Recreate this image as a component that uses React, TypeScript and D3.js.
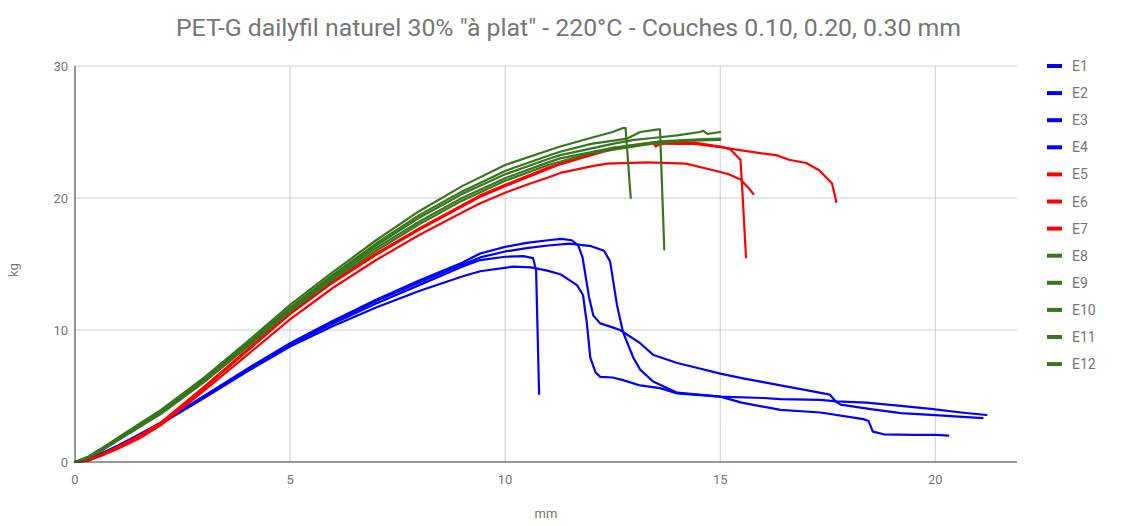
import React from 'react';
import * as d3 from 'd3';

type P = [number, number];

const title = 'PET-G dailyfil naturel 30% "à plat" - 220°C - Couches 0.10, 0.20, 0.30 mm';
const xTicks = [0, 5, 10, 15, 20];
const yTicks = [0, 10, 20, 30];
const seriesNames = ['E1', 'E2', 'E3', 'E4', 'E5', 'E6', 'E7', 'E8', 'E9', 'E10', 'E11', 'E12'];
const seriesColors = ['#0000ff', '#0000ff', '#0000ff', '#0000ff', '#ff0000', '#ff0000', '#ff0000', '#38761d', '#38761d', '#38761d', '#38761d', '#38761d'];

const e1: P[] = [[0,0],[0.3,0.15],[0.6,0.6],[1,1.2],[1.5,2.05],[2,2.95],[3,4.9],[4,6.95],[5,8.9],[6,10.5],[7,12.0],[8,13.4],[9,14.8],[9.42,15.3],[10,15.55],[10.42,15.6],[10.65,15.45],[10.72,14.5],[10.79,5.15]];
const e2: P[] = [[0,0],[0.3,0.12],[0.6,0.55],[1,1.15],[1.5,2.0],[2,2.9],[3,4.85],[4,6.85],[5,8.75],[6,10.3],[7,11.7],[8,12.95],[9,14.05],[9.42,14.45],[10.19,14.8],[10.6,14.75],[10.98,14.5],[11.3,14.2],[11.67,13.4],[11.81,12.65],[11.9,10.5],[11.98,7.9],[12.1,6.8],[12.21,6.45],[12.5,6.4],[12.74,6.2],[13.14,5.8],[13.6,5.6],[14.0,5.2],[15.0,4.95],[16.0,4.85],[16.4,4.77],[17.33,4.7],[17.7,4.6],[18.4,4.5],[19.2,4.25],[19.95,4.0],[20.6,3.75],[21.19,3.56]];
const e3: P[] = [[0,0],[0.3,0.15],[0.6,0.62],[1,1.25],[1.5,2.1],[2,3.0],[3,5.0],[4,7.05],[5,9.0],[6,10.7],[7,12.3],[8,13.75],[9,15.1],[9.42,15.8],[10,16.3],[10.5,16.6],[11,16.8],[11.3,16.9],[11.55,16.8],[11.7,16.4],[11.8,15.5],[11.95,12.5],[12.05,11.1],[12.21,10.5],[12.5,10.2],[12.67,10.0],[13.14,9.0],[13.45,8.1],[14.0,7.5],[14.5,7.1],[15.0,6.7],[15.5,6.35],[16.0,6.05],[16.4,5.8],[17.0,5.45],[17.55,5.1],[17.68,4.6],[17.8,4.35],[18.5,4.0],[19.2,3.7],[20.0,3.55],[21.1,3.33]];
const e4: P[] = [[0,0],[0.3,0.15],[0.6,0.6],[1,1.2],[1.5,2.05],[2,2.95],[3,4.95],[4,7.0],[5,8.95],[6,10.6],[7,12.2],[8,13.6],[9,14.95],[9.42,15.5],[10,15.95],[10.5,16.2],[11,16.4],[11.5,16.55],[12,16.35],[12.3,16.0],[12.44,15.2],[12.6,11.9],[12.74,9.85],[12.98,7.9],[13.14,7.0],[13.44,6.1],[14.0,5.25],[14.5,5.1],[15.0,4.95],[15.5,4.5],[16.4,3.95],[17.33,3.75],[18.33,3.25],[18.45,3.1],[18.55,2.3],[18.8,2.1],[19.5,2.05],[20.0,2.05],[20.3,2.0]];
const e5: P[] = [[0,0],[0.3,0.1],[0.6,0.45],[1,1.0],[1.5,1.8],[2,2.8],[3,5.4],[4,8.1],[5,10.8],[6,13.2],[7,15.3],[8,17.2],[9,18.9],[9.42,19.6],[10,20.4],[10.5,21.0],[11,21.55],[11.28,21.9],[12,22.4],[12.37,22.6],[13.3,22.7],[14.2,22.6],[14.84,22.1],[15.2,21.8],[15.47,21.4],[15.65,20.8],[15.77,20.3]];
const e6: P[] = [[0,0],[0.3,0.1],[0.6,0.5],[1,1.1],[1.5,1.95],[2,2.95],[3,5.6],[4,8.4],[5,11.2],[6,13.6],[7,15.7],[8,17.6],[9,19.35],[9.42,20.1],[10,20.9],[11,22.2],[11.28,22.55],[12,23.25],[12.5,23.7],[13.0,24.0],[13.44,24.2],[13.5,23.9],[13.6,24.1],[14.0,24.2],[14.4,24.2],[15,23.9],[15.23,23.7],[15.47,22.9],[15.5,21.4],[15.6,15.5]];
const e7: P[] = [[0,0],[0.3,0.12],[0.6,0.55],[1,1.15],[1.5,2.0],[2,3.0],[3,5.7],[4,8.5],[5,11.3],[6,13.7],[7,15.8],[8,17.7],[9,19.45],[9.42,20.2],[10,21.0],[11,22.3],[12,23.35],[12.5,23.8],[13.44,24.15],[14.0,24.1],[14.4,24.1],[15,23.85],[15.3,23.7],[15.93,23.4],[16.3,23.25],[16.6,22.9],[17.0,22.65],[17.3,22.1],[17.6,21.1],[17.7,19.7]];
const e8: P[] = [[0,0],[0.3,0.4],[0.6,1.0],[1,1.85],[1.5,2.9],[2,3.95],[3,6.4],[4,9.1],[5,11.9],[6,14.4],[7,16.8],[8,19.0],[9,20.9],[10,22.5],[11,23.6],[11.28,23.9],[12.05,24.6],[12.5,25.0],[12.74,25.3],[12.8,25.3],[12.92,20.0]];
const e9: P[] = [[0,0],[0.3,0.35],[0.6,0.95],[1,1.8],[1.5,2.8],[2,3.85],[3,6.3],[4,8.95],[5,11.7],[6,14.2],[7,16.55],[8,18.7],[9,20.5],[10,22.05],[11,23.2],[11.28,23.5],[12,24.1],[12.84,24.5],[13.14,25.0],[13.56,25.2],[13.6,25.2],[13.7,16.1]];
const e10: P[] = [[0,0],[0.3,0.35],[0.6,0.9],[1,1.75],[1.5,2.75],[2,3.8],[3,6.25],[4,8.9],[5,11.6],[6,14.1],[7,16.4],[8,18.5],[9,20.3],[10,21.8],[11,22.95],[11.28,23.25],[12.5,24.1],[13.0,24.4],[13.6,24.6],[14.0,24.75],[14.53,25.0],[14.6,25.1],[14.7,24.85],[15.0,25.0]];
const e11: P[] = [[0,0],[0.3,0.3],[0.6,0.85],[1,1.7],[1.5,2.7],[2,3.7],[3,6.15],[4,8.8],[5,11.5],[6,13.95],[7,16.2],[8,18.2],[9,20.0],[10,21.5],[11,22.7],[11.28,23.0],[12.5,23.8],[13.6,24.3],[14.5,24.45],[15,24.5]];
const e12: P[] = [[0,0],[0.3,0.3],[0.6,0.8],[1,1.65],[1.5,2.65],[2,3.65],[3,6.05],[4,8.7],[5,11.4],[6,13.8],[7,16.0],[8,18.0],[9,19.8],[10,21.3],[11,22.5],[12,23.4],[13,23.9],[13.6,24.2],[14.3,24.35],[15,24.4]];

const seriesData: P[][] = [e1, e2, e3, e4, e5, e6, e7, e8, e9, e10, e11, e12];

const W = 1125;
const H = 526;
const left = 75;
const right = 1017;
const top = 66;
const bottom = 462;
const font = 'Roboto, "Noto Sans", sans-serif';
const grey = '#757575';

export default function App() {
  const x = d3.scaleLinear().domain([0, 21.9]).range([left, right]);
  const y = d3.scaleLinear().domain([0, 30]).range([bottom, top]);
  const line = d3.line<P>().x(d => x(d[0])).y(d => y(d[1]));

  return (
    <svg width={W} height={H} style={{ position: 'absolute', left: 0, top: 0, background: '#fff' }}>
      <rect x={0} y={0} width={W} height={H} fill="#fff" />
      <text x={568.5} y={36} textAnchor="middle" fontFamily={font} fontSize={24.8} fill={grey}>{title}</text>
      {yTicks.filter(t => t > 0).map(t => (
        <line key={'gy' + t} x1={left} x2={right} y1={y(t)} y2={y(t)} stroke="#cccccc" strokeWidth={1} />
      ))}
      {xTicks.filter(t => t > 0).map(t => (
        <line key={'gx' + t} x1={x(t)} x2={x(t)} y1={top} y2={bottom} stroke="#cccccc" strokeWidth={1} />
      ))}
      <line x1={x(0)} x2={x(0)} y1={top} y2={bottom} stroke="#333" strokeWidth={1} />
      {yTicks.map(t => (
        <text key={'ty' + t} x={left - 7} y={y(t) + 4.5} textAnchor="end" fontFamily={font} fontSize={13} fill={grey}>{t}</text>
      ))}
      {xTicks.map(t => (
        <text key={'tx' + t} x={x(t)} y={bottom + 22} textAnchor="middle" fontFamily={font} fontSize={13} fill={grey}>{t}</text>
      ))}
      <text x={546} y={518} textAnchor="middle" fontFamily={font} fontSize={13} fill={grey}>mm</text>
      <text transform={`translate(18,270) rotate(-90)`} textAnchor="middle" fontFamily={font} fontSize={13} fill={grey}>kg</text>
      {seriesData.map((d, i) => (
        <path key={'s' + i} d={line(d) || ''} fill="none" stroke={seriesColors[i]} strokeWidth={2.2} strokeLinejoin="round" strokeLinecap="round" />
      ))}
      <line x1={left} x2={right} y1={bottom} y2={bottom} stroke="#333" strokeWidth={1} />
      {seriesNames.map((n, i) => (
        <g key={'l' + n} transform={`translate(0,${66 + i * 27.1})`}>
          <line x1={1047} x2={1062} y1={0} y2={0} stroke={seriesColors[i]} strokeWidth={4} />
          <text x={1072} y={5} fontFamily={font} fontSize={14} fill={grey}>{n}</text>
        </g>
      ))}
    </svg>
  );
}
